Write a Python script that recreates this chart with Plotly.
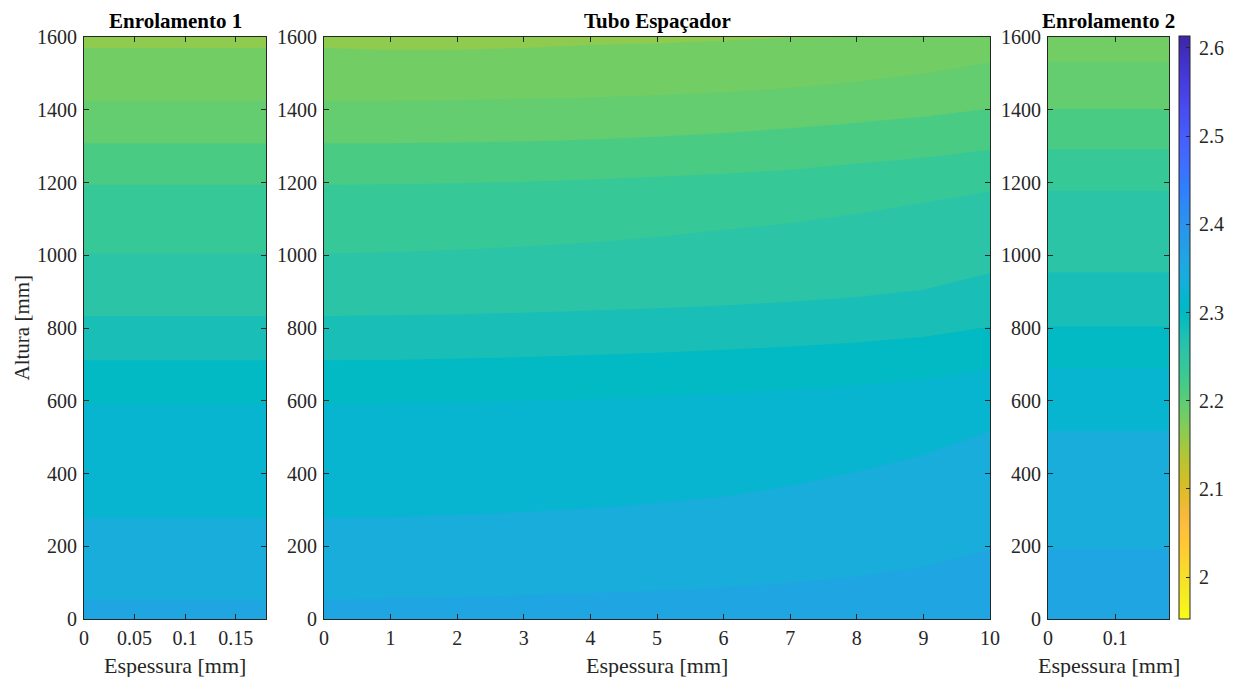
import numpy as np
import plotly.graph_objects as go

# ---------------- data ----------------
# isoline values, from the bottom isoline to the top one
levels = [2.36, 2.34, 2.32, 2.30, 2.28, 2.26, 2.24, 2.22, 2.20, 2.18]
lowest_level = 2.16          # value of the top (lowest) band
clim = [1.9524, 2.6136]      # colour limits of the colour bar
cbar_ticks = [2.0, 2.1, 2.2, 2.3, 2.4, 2.5, 2.6]
cbar_ticktext = ["2", "2.1", "2.2", "2.3", "2.4", "2.5", "2.6"]

# Enrolamento 1: height [mm] of each isoline at the two edges
e1_x = [0, 0.18]
e1_heights = [
    [52, 52], [277, 277], [591, 591], [711, 711], [833, 833],
    [1005, 1005], [1194, 1194], [1308, 1308], [1425, 1425], [1570, 1570],
]

# Tubo Espaçador: height [mm] of each isoline at x = 0..10 mm
tubo_x = [0, 1, 2, 3, 4, 5, 6, 7, 8, 9, 10]
tubo_heights = [
    [52, 56, 60, 65, 71, 78, 86, 99, 116, 144, 192],
    [277, 280, 286, 294, 304, 318, 336, 366, 405, 451, 517],
    [591, 593, 596, 600, 605, 612, 620, 630, 642, 658, 688],
    [711, 712, 716, 720, 726, 732, 740, 749, 760, 775, 804],
    [833, 835, 838, 842, 848, 854, 862, 872, 885, 905, 951],
    [1005, 1008, 1015, 1024, 1035, 1050, 1070, 1088, 1114, 1144, 1176],
    [1194, 1195, 1198, 1202, 1208, 1216, 1224, 1235, 1252, 1268, 1290],
    [1308, 1308, 1310, 1313, 1318, 1326, 1336, 1349, 1364, 1381, 1403],
    [1425, 1425, 1427, 1430, 1434, 1440, 1448, 1460, 1477, 1500, 1531],
    [1570, 1564, 1565, 1570, 1578, 1582, 1590, 1598, 1600, 1600, 1600],
]

# Enrolamento 2
e2_x = [0, 0.18]
e2_heights = [
    [192, 192], [517, 517], [689, 689], [804, 804], [953, 953],
    [1177, 1177], [1291, 1291], [1402, 1402], [1532, 1532], [1600, 1600],
]

y_range = [0, 1600]
y_ticks = [0, 200, 400, 600, 800, 1000, 1200, 1400, 1600]
e1_ticks = [0, 0.05, 0.1, 0.15]
tubo_ticks = list(range(0, 11))
e2_ticks = [0, 0.1]

titles = ["Enrolamento 1", "Tubo Espaçador", "Enrolamento 2"]
xlabel = "Espessura [mm]"
ylabel = "Altura [mm]"

# ---------------- style ----------------
PARULA = [
    [0.2422, 0.1504, 0.6603], [0.2504, 0.1650, 0.7076], [0.2578, 0.1818, 0.7511],
    [0.2647, 0.1978, 0.7952], [0.2706, 0.2147, 0.8364], [0.2751, 0.2342, 0.8710],
    [0.2783, 0.2559, 0.8991], [0.2803, 0.2782, 0.9221], [0.2813, 0.3006, 0.9414],
    [0.2810, 0.3228, 0.9579], [0.2795, 0.3447, 0.9717], [0.2760, 0.3667, 0.9829],
    [0.2699, 0.3892, 0.9906], [0.2602, 0.4123, 0.9952], [0.2440, 0.4358, 0.9988],
    [0.2206, 0.4603, 0.9973], [0.1963, 0.4847, 0.9892], [0.1834, 0.5074, 0.9798],
    [0.1786, 0.5289, 0.9682], [0.1764, 0.5499, 0.9520], [0.1687, 0.5703, 0.9359],
    [0.1540, 0.5902, 0.9218], [0.1460, 0.6091, 0.9079], [0.1380, 0.6276, 0.8973],
    [0.1248, 0.6459, 0.8883], [0.1113, 0.6635, 0.8763], [0.0952, 0.6798, 0.8598],
    [0.0689, 0.6948, 0.8394], [0.0297, 0.7082, 0.8163], [0.0036, 0.7203, 0.7917],
    [0.0067, 0.7312, 0.7660], [0.0433, 0.7411, 0.7394], [0.0964, 0.7500, 0.7120],
    [0.1408, 0.7584, 0.6842], [0.1717, 0.7670, 0.6554], [0.1938, 0.7758, 0.6251],
    [0.2161, 0.7843, 0.5923], [0.2470, 0.7918, 0.5567], [0.2906, 0.7973, 0.5188],
    [0.3406, 0.8008, 0.4789], [0.3909, 0.8029, 0.4354], [0.4456, 0.8024, 0.3909],
    [0.5044, 0.7993, 0.3480], [0.5616, 0.7942, 0.3045], [0.6174, 0.7876, 0.2612],
    [0.6720, 0.7793, 0.2227], [0.7242, 0.7698, 0.1910], [0.7738, 0.7598, 0.1646],
    [0.8203, 0.7498, 0.1535], [0.8634, 0.7406, 0.1596], [0.9035, 0.7330, 0.1774],
    [0.9393, 0.7288, 0.2100], [0.9728, 0.7298, 0.2394], [0.9956, 0.7434, 0.2371],
    [0.9970, 0.7659, 0.2199], [0.9952, 0.7893, 0.2028], [0.9892, 0.8136, 0.1885],
    [0.9786, 0.8386, 0.1766], [0.9676, 0.8639, 0.1643], [0.9610, 0.8890, 0.1537],
    [0.9597, 0.9135, 0.1423], [0.9628, 0.9373, 0.1265], [0.9691, 0.9606, 0.1064],
    [0.9769, 0.9839, 0.0805],
]
CMAP = np.array(PARULA[::-1])  # flipped: yellow at low values
N = len(CMAP)


def rgb(c):
    return "rgb(%d,%d,%d)" % tuple(int(round(v * 255)) for v in c)


def level_color(v):
    idx = int(np.floor((v - clim[0]) / (clim[1] - clim[0]) * N))
    idx = min(max(idx, 0), N - 1)
    return rgb(CMAP[idx])


colorscale = [[i / (N - 1), rgb(CMAP[i])] for i in range(N)]

FONT = "Liberation Serif, Times New Roman, serif"
AX = "#262626"

# the page body has an 8 px margin: the figure starts at (8, 8) in the window
OFF = 8
W, H = 1234 - OFF, 677 - OFF


def fx(px):   # window pixel x -> paper fraction
    return (px - OFF) / W


def fy(py):   # window pixel y -> paper fraction
    return 1 - (py - OFF) / H


# plot-area pixel boxes (window pixels)
px_left = [84, 324, 1048]
px_right = [266, 990, 1169]
px_top, px_bottom = 37, 619

fig = go.Figure()

panels = [(e1_x, e1_heights), (tubo_x, tubo_heights), (e2_x, e2_heights)]
for p, (xs, hs) in enumerate(panels):
    xa = "x" if p == 0 else "x%d" % (p + 1)
    ya = "y" if p == 0 else "y%d" % (p + 1)
    # background band (lowest value, top of the panel)
    fig.add_trace(go.Scatter(
        x=[xs[0], xs[-1], xs[-1], xs[0]],
        y=[y_range[0], y_range[0], y_range[1], y_range[1]],
        mode="none", fill="toself", fillcolor=level_color(lowest_level),
        hoverinfo="skip", showlegend=False, xaxis=xa, yaxis=ya))
    # regions below each isoline, drawn from the top isoline downwards
    for k in range(len(levels) - 1, -1, -1):
        fig.add_trace(go.Scatter(
            x=list(xs) + [xs[-1], xs[0]],
            y=list(hs[k]) + [y_range[0], y_range[0]],
            mode="none", fill="toself", fillcolor=level_color(levels[k]),
            hoverinfo="skip", showlegend=False, xaxis=xa, yaxis=ya))

# colour bar
cb_top, cb_bottom = 36, 619
fig.add_trace(go.Scatter(
    x=[None, None], y=[None, None], mode="markers",
    marker=dict(color=clim, cmin=clim[0], cmax=clim[1], colorscale=colorscale,
                showscale=True, size=1, opacity=0,
                colorbar=dict(
                    thickness=11, thicknessmode="pixels",
                    len=(cb_bottom - cb_top) / H, lenmode="fraction",
                    x=fx(1179), xanchor="left",
                    y=fy((cb_top + cb_bottom) / 2), yanchor="middle",
                    xpad=0, ypad=0, outlinewidth=1, outlinecolor=AX,
                    borderwidth=0,
                    ticks="inside", ticklen=4, tickcolor=AX, tickwidth=1,
                    tickvals=cbar_ticks,
                    ticktext=["\u2009" + t for t in cbar_ticktext],
                    tickfont=dict(family=FONT, size=20, color=AX))),
    hoverinfo="skip", showlegend=False, xaxis="x2", yaxis="y2"))

xticks = [e1_ticks, tubo_ticks, e2_ticks]
xranges = [[e1_x[0], e1_x[-1]], [tubo_x[0], tubo_x[-1]], [e2_x[0], e2_x[-1]]]
layout = dict(
    width=W, height=H, autosize=False,
    margin=dict(l=0, r=0, t=0, b=0, autoexpand=False),
    paper_bgcolor="white", plot_bgcolor="white",
    font=dict(family=FONT, size=20, color=AX),
    showlegend=False,
)
ydom = [fy(px_bottom), fy(px_top)]
for p in range(3):
    sx = "xaxis" if p == 0 else "xaxis%d" % (p + 1)
    sy = "yaxis" if p == 0 else "yaxis%d" % (p + 1)
    anchor_y = "y" if p == 0 else "y%d" % (p + 1)
    anchor_x = "x" if p == 0 else "x%d" % (p + 1)
    layout[sx] = dict(
        domain=[fx(px_left[p]), fx(px_right[p])], anchor=anchor_y,
        range=xranges[p], tickvals=xticks[p], automargin=False,
        ticks="inside", ticklen=5, tickcolor=AX, tickwidth=1,
        showline=True, linecolor=AX, linewidth=1, mirror="ticks",
        showgrid=False, zeroline=False, ticklabelstandoff=1,
        tickfont=dict(family=FONT, size=20, color=AX))
    layout[sy] = dict(
        domain=ydom, anchor=anchor_x, range=y_range, tickvals=y_ticks,
        automargin=False,
        ticks="inside", ticklen=5, tickcolor=AX, tickwidth=1,
        showline=True, linecolor=AX, linewidth=1, mirror="ticks",
        showgrid=False, zeroline=False, ticklabelstandoff=2,
        tickfont=dict(family=FONT, size=20, color=AX))

annotations = []
for p in range(3):
    cx = fx((px_left[p] + px_right[p]) / 2)
    annotations.append(dict(
        text="<b>%s</b>" % titles[p], x=cx, y=fy(21), xref="paper", yref="paper",
        xanchor="center", yanchor="middle", showarrow=False, borderpad=0,
        font=dict(family=FONT, size=21, color="black")))
    annotations.append(dict(
        text=xlabel, x=cx, y=fy(665), xref="paper", yref="paper",
        xanchor="center", yanchor="middle", showarrow=False,
        font=dict(family=FONT, size=22, color=AX)))
annotations.append(dict(
    text=ylabel, x=fx(21.5), y=fy((px_top + px_bottom) / 2), xref="paper", yref="paper",
    xanchor="center", yanchor="middle", showarrow=False, textangle=-90, borderpad=0,
    font=dict(family=FONT, size=21, color=AX)))
layout["annotations"] = annotations

fig.update_layout(**layout)
fig.write_html("out.html")
